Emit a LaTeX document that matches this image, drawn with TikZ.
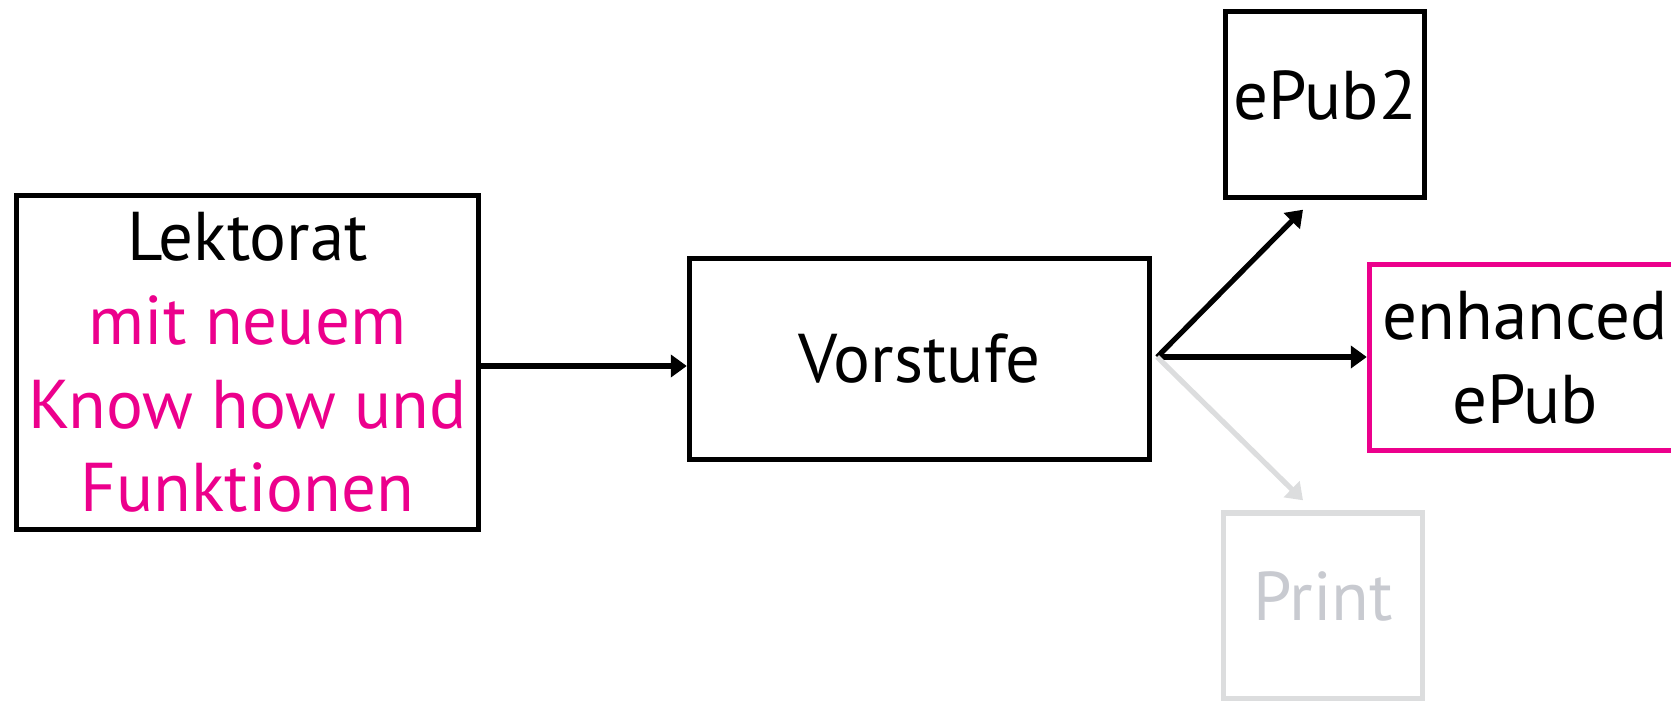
\documentclass[tikz,border=0pt]{standalone}
\usepackage{fontspec}
\setmainfont{PT Sans}
\usetikzlibrary{positioning}
\usetikzlibrary{arrows.meta}
\definecolor{pubmagenta}{HTML}{EC008C}
\definecolor{fadegray}{HTML}{DCDDDE}
\definecolor{fadetext}{HTML}{C8CAD0}

\begin{document}
\begin{tikzpicture}[
  x=0.5pt, y=-0.5pt,
  stage/.style={rectangle, draw, line width=2.7pt, inner sep=0pt, align=center, font=\fontsize{34.5}{41.8}\selectfont},
  outbox/.style={stage, minimum width=99.5pt, minimum height=93pt},
  flow/.style={-{Triangle[length=8pt, width=11pt]}, line width=2.6pt}
]
\useasboundingbox (0,0) rectangle (1671,701);

% Stages
\node[stage, minimum width=231pt, minimum height=167pt] (lektorat) at (247.5,362.5) {Lektorat\\
  \textcolor{pubmagenta}{mit neuem}\\
  \textcolor{pubmagenta}{Know how und}\\
  \textcolor{pubmagenta}{Funktionen}};
\node[stage, minimum width=230pt, minimum height=100.5pt] (vorstufe) at (919.5,359) {Vorstufe};

% Outputs
\node[outbox, text depth=9.5pt] (epub) at (1325,104.5) {ePub2};
\node[outbox, draw=pubmagenta, minimum width=155.5pt] (enhanced) at (1525,357.5) {enhanced\\ePub};
\node[outbox, draw=fadegray, text=fadetext, text depth=9.5pt] (print) at (1323,606) {Print};

% Flow
\coordinate (fork) at ([xshift=2.5pt, yshift=1pt]vorstufe.east);
\draw[flow] ([yshift=-1.75pt]lektorat.east) -- ([yshift=-1.75pt]lektorat.east -| vorstufe.west);
\draw[flow] (fork) -- ([xshift=-11pt, yshift=-4.75pt]epub.south);
\draw[flow] (fork) -- (fork -| enhanced.west);
\draw[flow, fadegray] (fork) -- ([xshift=-10pt, yshift=5pt]print.north);

\end{tikzpicture}
\end{document}
